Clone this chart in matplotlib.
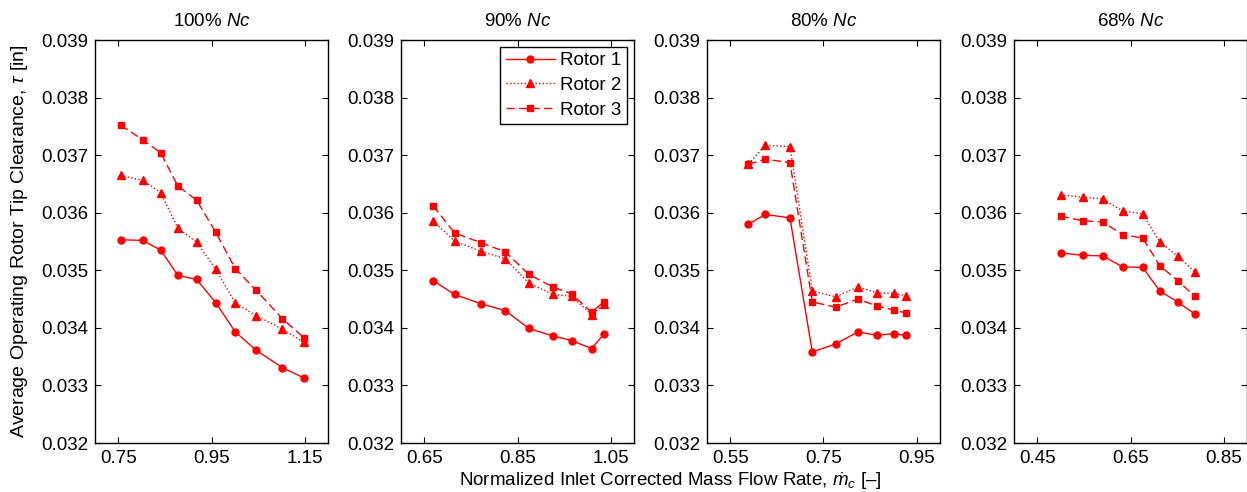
import matplotlib
matplotlib.use('Agg')
import matplotlib.pyplot as plt

plt.rcParams['font.family'] = ['Liberation Sans', 'DejaVu Sans']
plt.rcParams['mathtext.fontset'] = 'custom'
plt.rcParams['mathtext.rm'] = 'Liberation Sans'
plt.rcParams['mathtext.it'] = 'Liberation Sans:italic'

speeds = ['100%', '90%', '80%', '68%']
xlims = [(0.70, 1.20), (0.60, 1.10), (0.50, 1.00), (0.40, 0.90)]
xticks = [[0.75, 0.95, 1.15], [0.65, 0.85, 1.05], [0.55, 0.75, 0.95], [0.45, 0.65, 0.85]]

# mass flow (x) per speed line
flow_100 = [0.755, 0.802, 0.841, 0.878, 0.918, 0.959, 1.001, 1.046, 1.102, 1.148]
flow_90 = [0.669, 0.715, 0.771, 0.824, 0.874, 0.926, 0.966, 1.009, 1.035]
flow_80 = [0.589, 0.625, 0.678, 0.726, 0.776, 0.824, 0.864, 0.901, 0.926]
flow_68 = [0.500, 0.548, 0.590, 0.633, 0.676, 0.713, 0.751, 0.788]

# tip clearance [in]
r1_100 = [0.03553, 0.03552, 0.03535, 0.03491, 0.03484, 0.03444, 0.03393, 0.03361, 0.03331, 0.03313]
r2_100 = [0.03665, 0.03656, 0.03635, 0.03573, 0.03549, 0.03502, 0.03443, 0.03421, 0.03398, 0.03375]
r3_100 = [0.03752, 0.03727, 0.03704, 0.03646, 0.03622, 0.03566, 0.03503, 0.03465, 0.03416, 0.03383]

r1_90 = [0.03482, 0.03458, 0.03442, 0.03430, 0.03399, 0.03386, 0.03378, 0.03364, 0.03389]
r2_90 = [0.03585, 0.03551, 0.03533, 0.03520, 0.03478, 0.03458, 0.03455, 0.03423, 0.03441]
r3_90 = [0.03612, 0.03565, 0.03548, 0.03532, 0.03493, 0.03471, 0.03459, 0.03427, 0.03445]

r1_80 = [0.03580, 0.03597, 0.03591, 0.03358, 0.03372, 0.03393, 0.03387, 0.03390, 0.03387]
r2_80 = [0.03685, 0.03717, 0.03715, 0.03464, 0.03454, 0.03471, 0.03461, 0.03460, 0.03456]
r3_80 = [0.03684, 0.03693, 0.03687, 0.03445, 0.03436, 0.03450, 0.03438, 0.03431, 0.03426]

r1_68 = [0.03530, 0.03526, 0.03525, 0.03506, 0.03505, 0.03464, 0.03445, 0.03424]
r2_68 = [0.03631, 0.03627, 0.03624, 0.03603, 0.03598, 0.03549, 0.03525, 0.03497]
r3_68 = [0.03594, 0.03586, 0.03584, 0.03562, 0.03556, 0.03508, 0.03482, 0.03455]

flows = [flow_100, flow_90, flow_80, flow_68]
rotor1 = [r1_100, r1_90, r1_80, r1_68]
rotor2 = [r2_100, r2_90, r2_80, r2_68]
rotor3 = [r3_100, r3_90, r3_80, r3_68]

yticks = [0.032, 0.033, 0.034, 0.035, 0.036, 0.037, 0.038, 0.039]

fig = plt.figure(figsize=(12.47, 4.92), dpi=100)
lefts = [95, 401, 707, 1014]
red = '#ff0000'

for i in range(4):
    ax = fig.add_axes([lefts[i] / 1247, 49 / 492, 233 / 1247, 403 / 492])
    x = flows[i]
    ax.plot(x, rotor1[i], color=red, lw=1.0, ls='-', marker='o', ms=5, label='Rotor 1')
    ax.plot(x, rotor2[i], color=red, lw=1.0, ls=(0, (1, 1.6)), marker='^', ms=5.5, label='Rotor 2')
    ax.plot(x, rotor3[i], color=red, lw=1.0, ls=(0, (6, 3)), marker='s', ms=4.5, label='Rotor 3')
    ax.set_xlim(*xlims[i])
    ax.set_ylim(0.032, 0.039)
    ax.set_xticks(xticks[i])
    ax.set_xticklabels(['%.2f' % v for v in xticks[i]])
    ax.set_yticks(yticks)
    ax.set_yticklabels(['%.3f' % v for v in yticks])
    ax.tick_params(direction='in', length=4, width=0.8, top=True, right=True,
                   labelsize=13.5, pad=5)
    for s in ax.spines.values():
        s.set_linewidth(1.0)
    ax.set_title(speeds[i] + r' $\mathit{Nc}$', fontsize=13.5, pad=10)
    if i == 1:
        leg = ax.legend(loc='upper right', fontsize=13.5, fancybox=False, framealpha=1,
                        edgecolor='black', borderaxespad=0.35, handlelength=2.6,
                        labelspacing=0.4, borderpad=0.3, handletextpad=0.3)
        leg.get_frame().set_linewidth(1.0)

fig.text(20 / 1247, 0.509, r'Average Operating Rotor Tip Clearance, $\tau$ [in]',
         rotation=90, ha='center', va='center', fontsize=14)
fig.text(670 / 1247, 11 / 492, r'Normalized Inlet Corrected Mass Flow Rate, $\dot{m}_c$ [–]',
         ha='center', va='center', fontsize=13.5)

fig.savefig('out.png', dpi=100)
